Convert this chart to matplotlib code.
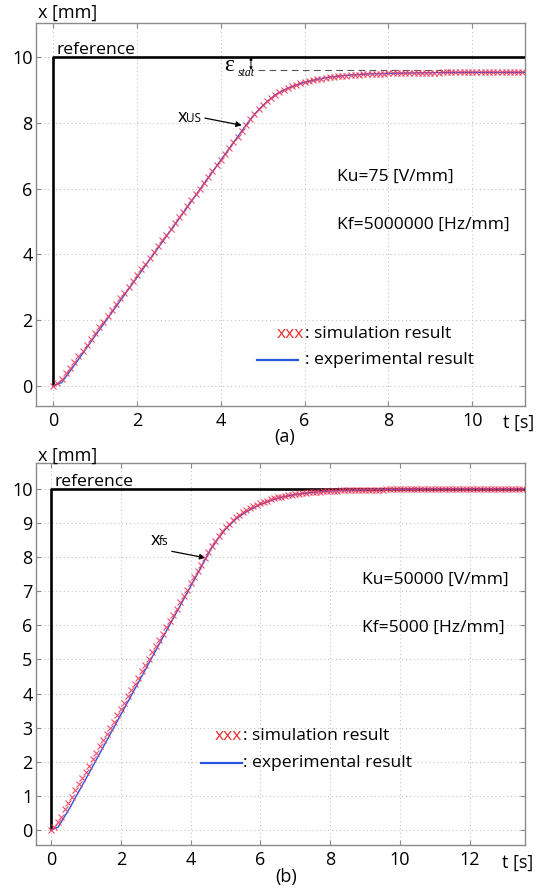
import numpy as np
import matplotlib
matplotlib.use('Agg')
import matplotlib.pyplot as plt

plt.rcParams['font.family'] = ['Open Sans', 'DejaVu Sans']

# ---------------- data ----------------
sim_step = 0.1  # s between simulation samples

# panel (a)
ref_a_t = [0, 0, 11.4]
ref_a_x = [0, 10, 10]
sim_a_x = [0.00, 0.08, 0.22, 0.38, 0.55, 0.72, 0.90, 1.07, 1.25, 1.42,
           1.60, 1.78, 1.95, 2.13, 2.30, 2.48, 2.66, 2.83, 3.01, 3.18,
           3.36, 3.54, 3.71, 3.89, 4.06, 4.24, 4.42, 4.59, 4.77, 4.94,
           5.12, 5.30, 5.47, 5.65, 5.82, 6.00, 6.18, 6.35, 6.53, 6.70,
           6.88, 7.06, 7.23, 7.41, 7.58, 7.76, 7.94, 8.11, 8.27, 8.41,
           8.54, 8.66, 8.76, 8.85, 8.93, 9.00, 9.06, 9.11, 9.16, 9.20,
           9.24, 9.27, 9.30, 9.32, 9.34, 9.36, 9.38, 9.39, 9.41, 9.42,
           9.43, 9.44, 9.45, 9.46, 9.47, 9.47, 9.48, 9.48, 9.49, 9.49,
           9.50, 9.50, 9.50, 9.51, 9.51, 9.51, 9.51, 9.52, 9.52, 9.52,
           9.52, 9.52, 9.52, 9.53, 9.53, 9.53, 9.53, 9.53, 9.53, 9.53,
           9.53, 9.53, 9.53, 9.53, 9.53, 9.53, 9.53, 9.53, 9.53, 9.53,
           9.53, 9.53, 9.53]
exp_a_t = [0, 0.2, 0.5, 1.0, 2.0, 3.0, 4.0, 4.6, 4.8, 5.0, 5.3, 5.6, 6.0,
           6.5, 7.0, 7.5, 8.0, 9.0, 10.0, 11.4]
exp_a_x = [0, 0.10, 0.62, 1.52, 3.30, 5.08, 6.86, 7.92, 8.25, 8.52, 8.85,
           9.05, 9.23, 9.37, 9.44, 9.48, 9.50, 9.52, 9.53, 9.53]

# panel (b)
ref_b_t = [0, 0, 13.7]
ref_b_x = [0, 10, 10]
sim_b_x = [0.00, 0.08, 0.22, 0.39, 0.61, 0.79, 0.97, 1.16, 1.34, 1.53,
           1.71, 1.89, 2.08, 2.26, 2.45, 2.63, 2.81, 3.00, 3.18, 3.37,
           3.55, 3.73, 3.92, 4.10, 4.29, 4.47, 4.65, 4.84, 5.02, 5.21,
           5.39, 5.57, 5.76, 5.94, 6.13, 6.31, 6.49, 6.68, 6.86, 7.05,
           7.23, 7.41, 7.60, 7.78, 7.97, 8.15, 8.33, 8.48, 8.63, 8.76,
           8.88, 8.98, 9.08, 9.17, 9.24, 9.32, 9.38, 9.44, 9.49, 9.54,
           9.58, 9.62, 9.66, 9.69, 9.72, 9.75, 9.77, 9.79, 9.81, 9.83,
           9.85, 9.86, 9.87, 9.89, 9.90, 9.91, 9.92, 9.92, 9.93, 9.94,
           9.94, 9.95, 9.95, 9.96, 9.96, 9.97, 9.97, 9.97, 9.97, 9.98,
           9.98, 9.98, 9.98, 9.98, 9.98, 9.98, 9.99, 9.99, 9.99, 9.99,
           9.99, 9.99, 9.99, 9.99, 9.99, 9.99, 10.0, 10.0, 10.0, 10.0,
           10.0, 10.0, 10.0, 10.0, 10.0, 10.0, 10.0, 10.0, 10.0, 10.0,
           10.0, 10.0, 10.0, 10.0, 10.0, 10.0, 10.0, 10.0, 10.0, 10.0,
           10.0, 10.0, 10.0, 10.0, 10.0, 10.0]
exp_b_t = [0, 0.2, 0.5, 1.0, 2.0, 3.0, 4.0, 4.4, 4.6, 4.8, 5.0, 5.3, 5.6,
           6.0, 6.5, 7.0, 7.5, 8.0, 9.0, 10.0, 11.0, 13.7]
exp_b_x = [0, 0.08, 0.58, 1.50, 3.38, 5.26, 7.14, 7.90, 8.27, 8.56, 8.82,
           9.12, 9.33, 9.55, 9.73, 9.84, 9.90, 9.94, 9.98, 9.99, 10.0, 10.0]

a_xticks = [0, 2, 4, 6, 8, 10]
a_yticks = [0, 2, 4, 6, 8, 10]
b_xticks = [0, 2, 4, 6, 8, 10, 12]
b_yticks = [0, 1, 2, 3, 4, 5, 6, 7, 8, 9, 10]

# ---------------- styling ----------------
W, H = 551, 890
fig = plt.figure(figsize=(W / 100, H / 100), dpi=100)

FRAME = '#8a8a8a'
SIM_C = '#ee3b5e'
EXP_C = '#2a55e0'
TICK_FS = 13
TXT_FS = 12.6


def style_axes(ax, xlim, ylim, xt, yt):
    ax.set_xlim(*xlim)
    ax.set_ylim(*ylim)
    ax.set_xticks(xt)
    ax.set_yticks(yt)
    for s in ax.spines.values():
        s.set_color(FRAME)
        s.set_linewidth(1.0)
    ax.tick_params(direction='in', length=3.5, width=0.8, color=FRAME,
                   top=True, right=True, labelsize=TICK_FS)
    ax.tick_params(axis='x', pad=4.5)
    ax.tick_params(axis='y', pad=2.5)
    ax.grid(True, linestyle=(0, (1, 2.5)), color='#c4c4c4', linewidth=0.8)
    ax.set_axisbelow(True)


def draw_series(ax, ref_t, ref_x, sim_x, exp_t, exp_x):
    sim_t = np.arange(len(sim_x)) * sim_step
    ax.plot(ref_t, ref_x, color='black', lw=1.9, zorder=3, solid_capstyle='butt')
    ax.plot(exp_t, exp_x, color=EXP_C, lw=1.0, zorder=4)
    ax.plot(sim_t, sim_x, linestyle='none', marker='x', ms=4.4, mew=0.8,
            color=SIM_C, zorder=5, alpha=0.9)


# ---- panel (a) ----
ax1 = fig.add_axes([36 / W, 1 - 406 / H, 489 / W, 383 / H])
style_axes(ax1, (-0.41, 11.26), (-0.61, 11.03), a_xticks, a_yticks)
draw_series(ax1, ref_a_t, ref_a_x, sim_a_x, exp_a_t, exp_a_x)

ax1.text(0.07, 10.1, 'reference', fontsize=TXT_FS, ha='left', va='baseline')
# x_us annotation
ax1.annotate('', xy=(4.5, 7.92), xytext=(3.62, 8.14),
             arrowprops=dict(arrowstyle='-|>', color='black', lw=0.9,
                             mutation_scale=8, shrinkA=0, shrinkB=0))
ax1.text(2.96, 8.18, 'x', fontsize=TXT_FS + 0.5, ha='left', va='center')
ax1.text(3.17, 8.13, 'US', fontsize=8.5, ha='left', va='center')
# epsilon_stat
ax1.plot([4.88, 9.46], [9.6, 9.6], color='#555555', lw=0.8,
         linestyle=(0, (6, 4)), zorder=2)
ax1.annotate('', xy=(4.72, 9.6), xytext=(4.72, 10.0),
             arrowprops=dict(arrowstyle='<|-|>', color='black', lw=0.7,
                             mutation_scale=4, shrinkA=0, shrinkB=0))
ax1.text(4.08, 9.74, 'ε', fontsize=17, ha='left', va='center',
         family=['Liberation Serif', 'DejaVu Serif'])
ax1.text(4.40, 9.5, 'stat', fontsize=8.5, ha='left', va='center',
         style='italic', family=['Liberation Serif', 'DejaVu Serif'])

ax1.text(6.78, 6.35, 'Ku=75 [V/mm]', fontsize=TXT_FS, ha='left', va='center')
ax1.text(6.78, 4.89, 'Kf=5000000 [Hz/mm]', fontsize=TXT_FS, ha='left', va='center')

ax1.text(5.34, 1.58, 'xxx', fontsize=TXT_FS, color='#e8302a', ha='left', va='center')
ax1.text(6.02, 1.58, ': simulation result', fontsize=TXT_FS, ha='left', va='center')
ax1.plot([4.87, 5.84], [0.78, 0.78], color=EXP_C, lw=1.6)
ax1.text(6.02, 0.78, ': experimental result', fontsize=TXT_FS, ha='left', va='center')

# ---- panel (b) ----
ax2 = fig.add_axes([36 / W, 1 - 845 / H, 489 / W, 382 / H])
style_axes(ax2, (-0.43, 13.58), (-0.44, 10.76), b_xticks, b_yticks)
draw_series(ax2, ref_b_t, ref_b_x, sim_b_x, exp_b_t, exp_b_x)

ax2.text(0.1, 10.1, 'reference', fontsize=TXT_FS, ha='left', va='baseline')
ax2.annotate('', xy=(4.42, 7.98), xytext=(3.46, 8.17),
             arrowprops=dict(arrowstyle='-|>', color='black', lw=0.9,
                             mutation_scale=8, shrinkA=0, shrinkB=0))
ax2.text(2.85, 8.5, 'x', fontsize=TXT_FS + 0.5, ha='left', va='center')
ax2.text(3.08, 8.45, 'fs', fontsize=8.5, ha='left', va='center')

ax2.text(8.91, 7.33, 'Ku=50000 [V/mm]', fontsize=TXT_FS, ha='left', va='center')
ax2.text(8.91, 5.92, 'Kf=5000 [Hz/mm]', fontsize=TXT_FS, ha='left', va='center')

ax2.text(4.7, 2.77, 'xxx', fontsize=TXT_FS, color='#e8302a', ha='left', va='center')
ax2.text(5.5, 2.77, ': simulation result', fontsize=TXT_FS, ha='left', va='center')
ax2.plot([4.3, 5.46], [1.97, 1.97], color=EXP_C, lw=1.6)
ax2.text(5.5, 1.97, ': experimental result', fontsize=TXT_FS, ha='left', va='center')

# ---- figure-level labels ----
fig.text(38 / W, 1 - 13 / H, 'x [mm]', fontsize=TICK_FS, ha='left', va='center')
fig.text(38 / W, 1 - 456 / H, 'x [mm]', fontsize=TICK_FS, ha='left', va='center')
fig.text(503 / W, 1 - 423 / H, 't [s]', fontsize=TICK_FS, ha='left', va='center')
fig.text(502 / W, 1 - 863 / H, 't [s]', fontsize=TICK_FS, ha='left', va='center')
fig.text(285 / W, 1 - 437 / H, '(a)', fontsize=TICK_FS, ha='center', va='center')
fig.text(286 / W, 1 - 877 / H, '(b)', fontsize=TICK_FS, ha='center', va='center')

fig.savefig('out.png', dpi=100)
